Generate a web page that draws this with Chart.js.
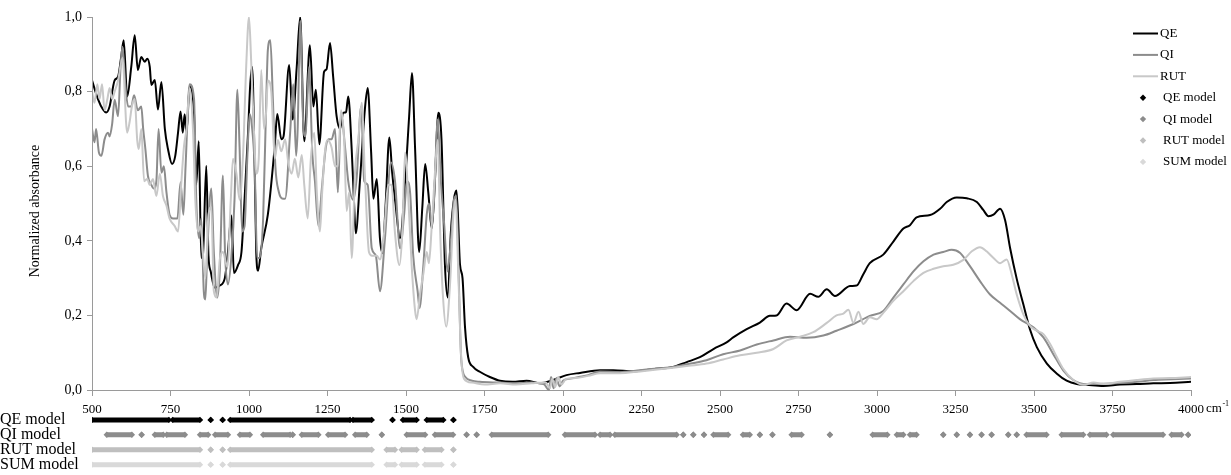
<!DOCTYPE html>
<html>
<head>
<meta charset="utf-8">
<title>Normalized absorbance</title>
<script src="https://cdn.jsdelivr.net/npm/chart.js@4/dist/chart.umd.min.js"></script>
<style>
    html, body { margin: 0; padding: 0; background: #fff; }
</style>
</head>
<body>
<canvas id="myChart" width="1231" height="475"></canvas>
<script>
// wavenumbers (cm-1) and normalized absorbance
var qeX = [500, 519, 535, 545, 556, 572, 583, 593, 601, 612, 625, 636, 646, 657, 668, 676, 684, 689, 700, 710,
    721, 732, 742, 755, 765, 774, 782, 789, 795, 801, 811, 825, 832, 840, 848, 853, 864, 871, 878, 891,
    907, 923, 933, 944, 952, 965, 976, 986, 997, 1004, 1010, 1018, 1023, 1029, 1039, 1060, 1082, 1090, 1103, 1110,
    1128, 1139, 1152, 1163, 1176, 1194, 1205, 1213, 1224, 1239, 1247, 1258, 1268, 1279, 1290, 1300, 1309, 1316, 1327, 1334,
    1340, 1353, 1369, 1378, 1389, 1396, 1407, 1417, 1425, 1435, 1447, 1456, 1467, 1481, 1497, 1510, 1519, 1529, 1542, 1552,
    1561, 1571, 1582, 1592, 1603, 1613, 1624, 1633, 1643, 1653, 1661, 1672, 1680, 1688, 1698, 1714, 1735, 1767, 1799, 1840,
    1884, 1927, 1969, 2011, 2054, 2118, 2160, 2224, 2287, 2351, 2394, 2436, 2479, 2521, 2542, 2585, 2627, 2659, 2680, 2712,
    2744, 2787, 2813, 2840, 2866, 2914, 2935, 2956, 2977, 3020, 3052, 3084, 3105, 3126, 3169, 3201, 3222, 3254, 3286, 3318,
    3339, 3355, 3371, 3392, 3408, 3424, 3445, 3466, 3487, 3509, 3541, 3573, 3604, 3636, 3668, 3721, 3774, 3827, 3880, 3933, 4000];
var qeY = [0.83, 0.78, 0.752, 0.744, 0.76, 0.83, 0.84, 0.893, 0.938, 0.787, 0.866, 0.951, 0.858, 0.893, 0.88, 0.888, 0.866, 0.818, 0.831, 0.752,
    0.826, 0.70, 0.646, 0.606, 0.627, 0.69, 0.747, 0.69, 0.739, 0.69, 0.815, 0.74, 0.55, 0.667, 0.354, 0.36, 0.601, 0.36, 0.318, 0.274,
    0.28, 0.30, 0.37, 0.468, 0.314, 0.335, 0.37, 0.513, 0.69, 0.82, 0.866, 0.60, 0.37, 0.32, 0.38, 0.47, 0.654, 0.74, 0.672, 0.68,
    0.871, 0.725, 0.866, 1.0, 0.667, 0.924, 0.76, 0.805, 0.659, 0.853, 0.86, 0.93, 0.84, 0.734, 0.70, 0.743, 0.745, 0.787, 0.646, 0.513,
    0.42, 0.557, 0.752, 0.81, 0.637, 0.513, 0.566, 0.407, 0.367, 0.495, 0.677, 0.583, 0.495, 0.407, 0.557, 0.734, 0.85, 0.646, 0.37, 0.49,
    0.606, 0.53, 0.433, 0.56, 0.743, 0.672, 0.336, 0.248, 0.425, 0.513, 0.535, 0.336, 0.30, 0.168, 0.088, 0.062, 0.049, 0.035, 0.025, 0.022,
    0.025, 0.018, 0.027, 0.04, 0.046, 0.053, 0.053, 0.05, 0.056, 0.062, 0.075, 0.088, 0.11, 0.128, 0.141, 0.163, 0.181, 0.199, 0.20, 0.232,
    0.214, 0.258, 0.25, 0.27, 0.252, 0.279, 0.28, 0.31, 0.34, 0.363, 0.398, 0.433, 0.442, 0.463, 0.469, 0.486, 0.504, 0.516, 0.514, 0.504,
    0.482, 0.466, 0.47, 0.486, 0.455, 0.38, 0.298, 0.23, 0.163, 0.115, 0.071, 0.044, 0.025, 0.016, 0.014, 0.011, 0.015, 0.016, 0.018, 0.019, 0.022];

var qiX = [500, 508, 513, 522, 530, 540, 551, 556, 564, 572, 583, 591, 597, 606, 615, 625, 634, 646, 657, 663,
    670, 678, 689, 697, 705, 712, 721, 729, 737, 747, 758, 772, 782, 791, 798, 811, 825, 832, 841, 848,
    856, 861, 867, 880, 888, 899, 907, 917, 924, 933, 944, 954, 963, 970, 978, 986, 995, 1002, 1009, 1018,
    1026, 1034, 1045, 1055, 1060, 1068, 1076, 1084, 1095, 1108, 1115, 1131, 1141, 1150, 1155, 1163, 1173, 1180, 1191, 1202,
    1210, 1221, 1232, 1244, 1253, 1263, 1274, 1283, 1293, 1306, 1316, 1332, 1343, 1357, 1367, 1378, 1391, 1404, 1417, 1433,
    1452, 1465, 1481, 1494, 1503, 1513, 1523, 1537, 1543, 1555, 1566, 1573, 1582, 1590, 1601, 1611, 1622, 1632, 1643, 1653,
    1660, 1668, 1676, 1689, 1710, 1735, 1800, 1850, 1900, 1940, 1955, 1962, 1970, 1978, 1990, 2000, 2020, 2050, 2080, 2118,
    2180, 2245, 2300, 2351, 2400, 2457, 2510, 2564, 2617, 2670, 2723, 2776, 2829, 2871, 2925, 2977, 3020, 3052, 3084, 3116,
    3148, 3180, 3211, 3238, 3264, 3296, 3328, 3360, 3392, 3424, 3455, 3498, 3530, 3561, 3593, 3625, 3668, 3720, 3774, 3830,
    3880, 3940, 4000];
var qiY = [0.70, 0.664, 0.70, 0.637, 0.628, 0.672, 0.69, 0.68, 0.712, 0.778, 0.734, 0.866, 0.92, 0.82, 0.76, 0.76, 0.79, 0.75, 0.76, 0.70,
    0.646, 0.575, 0.55, 0.54, 0.56, 0.70, 0.583, 0.60, 0.531, 0.47, 0.46, 0.46, 0.557, 0.47, 0.60, 0.82, 0.78, 0.51, 0.407, 0.46,
    0.265, 0.243, 0.37, 0.54, 0.37, 0.248, 0.32, 0.575, 0.36, 0.283, 0.36, 0.513, 0.805, 0.65, 0.425, 0.44, 0.63, 0.74, 0.71, 0.60,
    0.354, 0.354, 0.46, 0.778, 0.911, 0.938, 0.78, 0.60, 0.531, 0.513, 0.513, 0.69, 0.82, 0.628, 0.70, 0.99, 0.707, 0.68, 0.866, 0.63,
    0.56, 0.44, 0.54, 0.646, 0.672, 0.672, 0.70, 0.53, 0.743, 0.65, 0.56, 0.51, 0.57, 0.76, 0.56, 0.55, 0.38, 0.36, 0.265, 0.407,
    0.61, 0.56, 0.38, 0.47, 0.56, 0.53, 0.36, 0.265, 0.22, 0.33, 0.47, 0.50, 0.44, 0.52, 0.725, 0.56, 0.44, 0.318, 0.40, 0.51,
    0.52, 0.30, 0.08, 0.035, 0.025, 0.022, 0.02, 0.018, 0.02, 0.015, 0.0, 0.035, 0.005, 0.03, 0.01, 0.025, 0.03, 0.035, 0.04, 0.05,
    0.048, 0.053, 0.058, 0.062, 0.07, 0.08, 0.096, 0.106, 0.122, 0.133, 0.143, 0.14, 0.146, 0.159, 0.177, 0.199, 0.212, 0.248, 0.283, 0.318,
    0.345, 0.363, 0.37, 0.376, 0.368, 0.332, 0.292, 0.256, 0.234, 0.212, 0.19, 0.168, 0.141, 0.097, 0.053, 0.027, 0.016, 0.017, 0.019, 0.022,
    0.027, 0.029, 0.031];

var rutX = [500, 508, 517, 524, 532, 540, 549, 556, 564, 572, 583, 597, 612, 620, 627, 636, 644, 649, 657, 666,
    676, 684, 694, 705, 716, 726, 737, 747, 763, 774, 784, 793, 801, 811, 822, 829, 838, 846, 853, 861,
    871, 880, 888, 897, 907, 917, 931, 942, 949, 960, 970, 981, 991, 1000, 1007, 1016, 1023, 1031, 1039, 1048,
    1055, 1060, 1071, 1082, 1092, 1103, 1115, 1125, 1136, 1146, 1157, 1168, 1176, 1187, 1197, 1208, 1216, 1226, 1233, 1242,
    1250, 1263, 1274, 1283, 1293, 1303, 1311, 1319, 1327, 1338, 1348, 1359, 1369, 1382, 1392, 1407, 1417, 1430, 1443, 1454,
    1465, 1479, 1488, 1497, 1507, 1518, 1529, 1534, 1545, 1555, 1566, 1573, 1582, 1592, 1601, 1609, 1618, 1628, 1640, 1651,
    1658, 1666, 1675, 1685, 1710, 1750, 1800, 1850, 1900, 1945, 1958, 1966, 1975, 1985, 1995, 2010, 2040, 2080, 2118, 2180,
    2245, 2300, 2351, 2400, 2457, 2510, 2564, 2617, 2670, 2712, 2755, 2797, 2840, 2871, 2893, 2909, 2925, 2941, 2956, 2977,
    2999, 3020, 3052, 3084, 3116, 3148, 3180, 3211, 3243, 3275, 3302, 3328, 3349, 3371, 3392, 3413, 3429, 3445, 3466, 3487,
    3509, 3530, 3551, 3573, 3593, 3625, 3657, 3690, 3721, 3774, 3827, 3880, 3933, 4000];
var rutY = [0.80, 0.77, 0.82, 0.78, 0.82, 0.75, 0.78, 0.81, 0.78, 0.80, 0.83, 0.89, 0.69, 0.72, 0.76, 0.78, 0.67, 0.646, 0.70, 0.56,
    0.566, 0.55, 0.566, 0.52, 0.58, 0.52, 0.495, 0.46, 0.44, 0.425, 0.55, 0.654, 0.70, 0.81, 0.69, 0.51, 0.425, 0.44, 0.37, 0.30,
    0.47, 0.49, 0.265, 0.248, 0.35, 0.37, 0.33, 0.51, 0.62, 0.58, 0.51, 0.63, 0.866, 1.0, 0.88, 0.69, 0.58, 0.62, 0.858, 0.70,
    0.75, 0.83, 0.80, 0.62, 0.67, 0.64, 0.672, 0.61, 0.58, 0.62, 0.57, 0.63, 0.55, 0.46, 0.62, 0.69, 0.53, 0.425, 0.53, 0.64,
    0.67, 0.65, 0.60, 0.60, 0.75, 0.67, 0.48, 0.53, 0.354, 0.59, 0.67, 0.77, 0.58, 0.37, 0.36, 0.36, 0.35, 0.42, 0.55, 0.55,
    0.42, 0.335, 0.42, 0.637, 0.52, 0.335, 0.212, 0.19, 0.26, 0.31, 0.37, 0.34, 0.44, 0.58, 0.67, 0.42, 0.248, 0.17, 0.28, 0.47,
    0.51, 0.33, 0.10, 0.03, 0.02, 0.015, 0.018, 0.015, 0.018, 0.02, 0.005, 0.03, 0.008, 0.035, 0.015, 0.03, 0.032, 0.038, 0.045, 0.045,
    0.05, 0.055, 0.06, 0.065, 0.071, 0.082, 0.093, 0.10, 0.11, 0.133, 0.143, 0.155, 0.18, 0.20, 0.205, 0.215, 0.18, 0.21, 0.177, 0.195,
    0.19, 0.207, 0.239, 0.265, 0.292, 0.314, 0.325, 0.332, 0.336, 0.349, 0.372, 0.383, 0.372, 0.354, 0.34, 0.35, 0.31, 0.256, 0.203, 0.172,
    0.159, 0.15, 0.124, 0.088, 0.057, 0.027, 0.014, 0.02, 0.016, 0.022, 0.027, 0.031, 0.032, 0.035];

// wavenumber ranges [from, to] covered by each model (from === to is a single point)
var qeModel = [[500, 745], [757, 844], [878, 878], [916, 916], [940, 1322], [1331, 1391], [1457, 1457],
    [1490, 1534], [1566, 1619], [1651, 1651]];
var qiModel = [[547, 627], [658, 658], [700, 727], [738, 796], [844, 870], [892, 933], [971, 1003], [1045, 1131],
    [1139, 1139], [1168, 1221], [1252, 1306], [1338, 1375], [1423, 1423], [1502, 1561], [1592, 1650], [1693, 1693],
    [1725, 1725], [1773, 1953], [2006, 2102], [2118, 2150], [2165, 2362], [2383, 2383], [2415, 2415], [2449, 2449],
    [2479, 2526], [2573, 2595], [2627, 2627], [2667, 2667], [2728, 2760], [2850, 2850], [2986, 3033], [3063, 3084],
    [3105, 3126], [3211, 3211], [3254, 3254], [3296, 3296], [3333, 3333], [3365, 3365], [3418, 3418], [3445, 3445],
    [3476, 3540], [3588, 3657], [3678, 3731], [3752, 3911], [3938, 3970], [3991, 3991]];
var rutModel = [[500, 844], [878, 878], [916, 916], [940, 1391], [1438, 1465], [1486, 1534], [1560, 1613], [1651, 1651]];
var sumModel = [[500, 844], [878, 878], [916, 916], [940, 1391], [1438, 1465], [1486, 1534], [1560, 1613], [1651, 1651]];

var seriesNames = ["QE", "QI", "RUT"];
var modelNames = ["QE model", "QI model", "RUT model", "SUM model"];
var xTicks = [500, 750, 1000, 1250, 1500, 1750, 2000, 2250, 2500, 2750, 3000, 3250, 3500, 3750, 4000];
var yTicks = [0, 0.2, 0.4, 0.6, 0.8, 1.0];

var lineColors = ["#000000", "#8c8c8c", "#c8c8c8"];
var modelColors = ["#000000", "#8c8c8c", "#bfbfbf", "#d9d9d9"];
var modelRows = [-0.08, -0.12, -0.16, -0.20]; // rows hung below the x axis
var axisColor = "#9a9a9a";
var serif = "'Liberation Serif', 'Times New Roman', serif";

function toPoints(xs, ys) {
    return xs.map(function (v, i) {
        return { x: v, y: ys[i] };
    });
}

// each range becomes a short thick line, broken by a null between ranges
function toBands(ranges, row) {
    var pts = [];
    ranges.forEach(function (r) {
        pts.push({ x: r[0], y: row }, { x: r[1], y: row }, { x: r[1], y: null });
    });
    return pts;
}

function spectrum(i, xs, ys) {
    return {
        label: seriesNames[i],
        data: toPoints(xs, ys),
        borderColor: lineColors[i],
        borderWidth: 2,
        pointRadius: 0,
        cubicInterpolationMode: 'monotone',
        order: 3 - i
    };
}

function modelRow(i, ranges) {
    return {
        label: modelNames[i],
        data: toBands(ranges, modelRows[i]),
        borderColor: modelColors[i],
        backgroundColor: modelColors[i],
        borderWidth: 5,
        borderCapStyle: 'butt',
        pointStyle: 'rectRot',
        pointRadius: 3.2,
        pointBorderWidth: 0,
        pointBackgroundColor: modelColors[i],
        spanGaps: false,
        order: 0
    };
}

// axis titles, row names, unit and the legend are painted by hand
var extras = {
    id: 'extras',
    afterDraw: function (chart) {
        var ctx = chart.ctx;
        var xs = chart.scales.x;
        var ys = chart.scales.y;
        var y0 = ys.getPixelForValue(0);
        ctx.save();

        // y axis line only spans 0..1
        var ax = Math.round(xs.left) + 0.5;
        ctx.strokeStyle = axisColor;
        ctx.lineWidth = 1;
        ctx.beginPath();
        ctx.moveTo(ax, y0);
        ctx.lineTo(ax, ys.getPixelForValue(1));
        ctx.stroke();

        ctx.fillStyle = '#000';

        ctx.save();
        ctx.font = '14px ' + serif;
        ctx.translate(35, 211);
        ctx.rotate(-Math.PI / 2);
        ctx.textAlign = 'center';
        ctx.textBaseline = 'middle';
        ctx.fillText('Normalized absorbance', 0, 0);
        ctx.restore();

        ctx.font = '16px ' + serif;
        ctx.textAlign = 'left';
        ctx.textBaseline = 'middle';
        modelNames.forEach(function (name, i) {
            ctx.fillText(name, 0, ys.getPixelForValue(modelRows[i]));
        });

        // unit next to the last tick label
        ctx.font = '13px ' + serif;
        var ux = xs.getPixelForValue(4000) + ctx.measureText('4000').width / 2 + 2;
        ctx.textBaseline = 'top';
        ctx.fillText('cm', ux, y0 + 12);
        var cw = ctx.measureText('cm').width;
        ctx.font = '8px ' + serif;
        ctx.fillText('-1', ux + cw + 0.5, y0 + 10);

        // legend
        ctx.font = '13px ' + serif;
        ctx.textBaseline = 'middle';
        var ly = 33.5;
        seriesNames.forEach(function (name, i) {
            ctx.strokeStyle = lineColors[i];
            ctx.lineWidth = 2;
            ctx.beginPath();
            ctx.moveTo(1133, ly);
            ctx.lineTo(1158, ly);
            ctx.stroke();
            ctx.fillText(name, 1160, ly);
            ly += 21.4;
        });
        modelNames.forEach(function (name, i) {
            ctx.fillStyle = modelColors[i];
            ctx.beginPath();
            ctx.moveTo(1143, ly - 3.2);
            ctx.lineTo(1146.2, ly);
            ctx.lineTo(1143, ly + 3.2);
            ctx.lineTo(1139.8, ly);
            ctx.closePath();
            ctx.fill();
            ctx.fillStyle = '#000';
            ctx.fillText(name, 1163, ly);
            ly += 21.4;
        });

        ctx.restore();
    }
};

Chart.defaults.font.family = serif;
Chart.defaults.font.size = 13;
Chart.defaults.color = '#000';

new Chart("myChart", {
    type: 'line',
    data: {
        datasets: [
            spectrum(0, qeX, qeY),
            spectrum(1, qiX, qiY),
            spectrum(2, rutX, rutY),
            modelRow(0, qeModel),
            modelRow(1, qiModel),
            modelRow(2, rutModel),
            modelRow(3, sumModel)
        ]
    },
    options: {
        responsive: false,
        animation: false,
        events: [],
        layout: { padding: { top: 17, right: 40, bottom: 0, left: 0 } },
        plugins: {
            legend: { display: false },
            tooltip: { enabled: false }
        },
        scales: {
            x: {
                type: 'linear',
                min: 500,
                max: 4000,
                position: { y: 0 },
                afterBuildTicks: function (scale) {
                    scale.ticks = xTicks.map(function (v) { return { value: v }; });
                },
                border: { color: axisColor },
                grid: { drawOnChartArea: false, tickLength: 5, color: axisColor },
                ticks: {
                    padding: 7,
                    maxRotation: 0,
                    autoSkip: false,
                    callback: function (v) { return String(v); }
                }
            },
            y: {
                type: 'linear',
                min: -0.217,
                max: 1,
                afterBuildTicks: function (scale) {
                    scale.ticks = yTicks.map(function (v) { return { value: v }; });
                },
                afterFit: function (scale) {
                    scale.width = 92;
                    scale.paddingTop = 0;
                    scale.paddingBottom = 0;
                },
                border: { display: false },
                grid: { drawOnChartArea: false, tickLength: 5, color: axisColor },
                ticks: {
                    padding: 5,
                    font: { size: 14 },
                    callback: function (v) { return v.toFixed(1).replace('.', ','); }
                }
            }
        }
    },
    plugins: [extras]
});
</script>
</body>
</html>
